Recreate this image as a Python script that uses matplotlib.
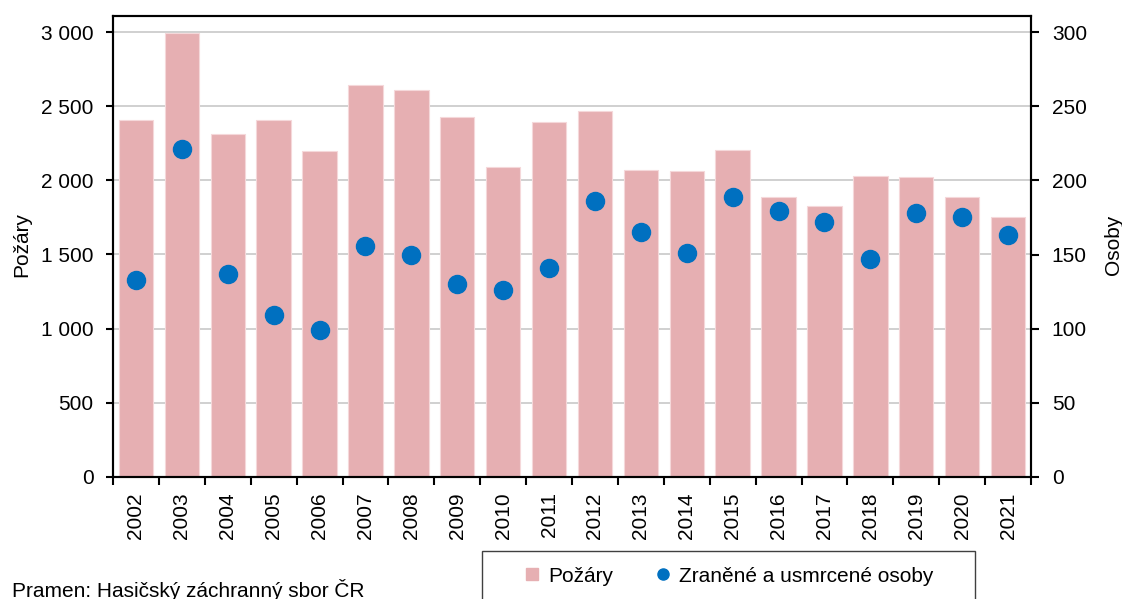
import matplotlib
matplotlib.use("Agg")
import matplotlib.pyplot as plt
from matplotlib.lines import Line2D
from matplotlib.patches import Rectangle
from matplotlib.ticker import FuncFormatter, FixedLocator
import numpy as np

plt.rcParams['font.family'] = ['Liberation Sans', 'DejaVu Sans']

years = ['2002', '2003', '2004', '2005', '2006', '2007', '2008', '2009', '2010', '2011',
         '2012', '2013', '2014', '2015', '2016', '2017', '2018', '2019', '2020', '2021']
pozary = [2410, 2995, 2315, 2410, 2195, 2640, 2610, 2430, 2090, 2395,
          2470, 2070, 2060, 2205, 1890, 1830, 2030, 2020, 1890, 1750]
osoby = [133, 221, 137, 109, 99, 156, 150, 130, 126, 141,
         186, 165, 151, 189, 179, 172, 147, 178, 175, 163]

bar_color = '#E6AFB2'
dot_color = '#0070C0'
FS = 15

fig = plt.figure(figsize=(11.22, 5.99), dpi=100)
ax = fig.add_axes([113/1122, 1-477/599, (1031-113)/1122, (477-16)/599])
ax2 = ax.twinx()

x = np.arange(len(years))
ax.set_axisbelow(True)
ax.yaxis.grid(True, color='#C8C8C8', linewidth=1.2)
ax.bar(x, pozary, width=0.75, color=bar_color, edgecolor='#F5D8DA', linewidth=0.8, zorder=2)
ax.set_xlim(-0.5, len(years) - 0.5)
ax.set_ylim(0, 3000 * (477-16)/(477-32))
ax.set_yticks(np.arange(0, 3001, 500))
ax.yaxis.set_major_formatter(FuncFormatter(lambda v, p: f"{int(v):,}".replace(",", " ")))

ax2.plot(x, osoby, linestyle='none', marker='o', markersize=13, color=dot_color, zorder=3)
ax2.set_ylim(0, 300 * (477-16)/(477-32))
ax2.set_yticks(np.arange(0, 301, 50))
ax.set_zorder(ax2.get_zorder() - 1)
ax2.patch.set_visible(False)

ax.set_xticks(x)
ax.set_xticklabels(years, rotation=90, fontsize=FS)
ax.tick_params(axis='x', which='major', length=0, pad=11)
ax.xaxis.set_minor_locator(FixedLocator(np.arange(-0.5, len(years), 1)))
ax.tick_params(axis='x', which='minor', length=6, width=1.5, direction='out')
ax.tick_params(axis='y', labelsize=FS, length=5, width=1.5, direction='out', pad=9)
ax2.tick_params(axis='y', labelsize=FS, length=6, width=1.5, direction='out', pad=9)

for a in (ax, ax2):
    for s in a.spines.values():
        s.set_linewidth(1.5)
        s.set_color('black')

fig.text(22/1122, 1-245/599, 'Požáry', fontsize=FS, rotation=90, ha='center', va='center')
fig.text(1113/1122, 1-245/599, 'Osoby', fontsize=FS, rotation=90, ha='center', va='center')

# legend box
fig.patches.append(Rectangle((482/1122, -0.05), (975-482)/1122, (599-551)/599 + 0.05,
                             transform=fig.transFigure, facecolor='white',
                             edgecolor='#404040', linewidth=1.0))
handles = [Line2D([], [], linestyle='none', marker='s', markersize=8, color=bar_color, label='Požáry'),
           Line2D([], [], linestyle='none', marker='o', markersize=8, color=dot_color,
                  label='Zraněné a usmrcené osoby')]
fig.legend(handles=handles, loc='center left', bbox_to_anchor=(503/1122, 1-576/599),
           ncol=2, frameon=False, fontsize=FS, handletextpad=0.29, columnspacing=1.85,
           handlelength=1.0, borderpad=0.4)

fig.text(12/1122, 1-597/599, 'Pramen: Hasičský záchranný sbor ČR', fontsize=FS,
         ha='left', va='baseline')

fig.savefig('out.png', dpi=100)
